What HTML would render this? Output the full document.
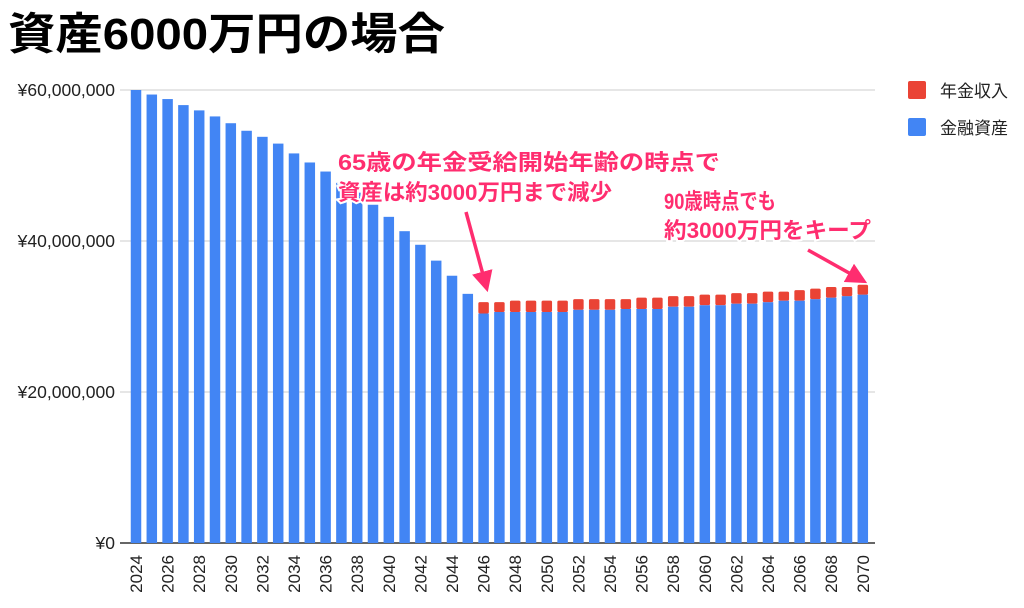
<!DOCTYPE html>
<html><head><meta charset="utf-8"><style>
body{margin:0;width:1024px;height:608px;background:#fff;overflow:hidden;font-family:"Liberation Sans","Noto Sans CJK JP",sans-serif}
svg{display:block}
</style></head><body>
<svg id="chart" width="1024" height="608" xmlns="http://www.w3.org/2000/svg">
<text x="8" y="49" font-size="44" font-weight="bold" textLength="437" lengthAdjust="spacingAndGlyphs" font-family="Liberation Sans,Noto Sans CJK JP,sans-serif" fill="#000">資産6000万円の場合</text>
<g id="grid"></g><g id="bars"></g><g id="xlabels"></g>
<g>
<rect x="908" y="81" width="18" height="18" rx="2" fill="#ea4335"/>
<text x="940" y="97" font-size="17" fill="#222">年金収入</text>
<rect x="908" y="118" width="18" height="18" rx="2" fill="#4285f4"/>
<text x="940" y="134" font-size="17" fill="#222">金融資産</text>
</g>
<defs><marker id="ah" markerWidth="6" markerHeight="6" refX="3" refY="3" orient="auto"><path d="M0,0 L6,3 L0,6 z" fill="#ff2d6f"/></marker></defs>
<g font-size="22" font-weight="bold" fill="#ff2d6f" stroke="#fff" stroke-width="4" paint-order="stroke" lengthAdjust="spacingAndGlyphs">
<text x="338" y="170" textLength="382" lengthAdjust="spacingAndGlyphs">65歳の年金受給開始年齢の時点で</text>
<text x="338" y="200" textLength="274" lengthAdjust="spacingAndGlyphs">資産は約3000万円まで減少</text>
</g>
<line x1="466" y1="212" x2="485" y2="282" stroke="#ff2d6f" stroke-width="3.5" marker-end="url(#ah)"/>
<g font-size="22" font-weight="bold" fill="#ff2d6f" stroke="#fff" stroke-width="4" paint-order="stroke">
<text x="664" y="209" textLength="112" lengthAdjust="spacingAndGlyphs">90歳時点でも</text>
<text x="664" y="238" textLength="207" lengthAdjust="spacingAndGlyphs">約3000万円をキープ</text>
</g>
<line x1="808" y1="250" x2="858" y2="278" stroke="#ff2d6f" stroke-width="3.5" marker-end="url(#ah)"/>
</svg>
<script>
const years=[];for(let y=2024;y<=2070;y++)years.push(y);
const assets=[60.0,59.4,58.8,58.0,57.3,56.5,55.6,54.6,53.8,52.9,51.6,50.4,49.2,47.7,46.4,44.8,43.2,41.3,39.5,37.4,35.4,33.0,
30.4,30.6,30.6,30.6,30.6,30.6,30.9,30.9,30.9,31.0,31.0,31.0,31.3,31.3,31.5,31.5,31.7,31.7,31.9,32.1,32.1,32.3,32.5,32.7,32.9];
const pension=[0,0,0,0,0,0,0,0,0,0,0,0,0,0,0,0,0,0,0,0,0,0,
1.5,1.3,1.5,1.5,1.5,1.5,1.4,1.4,1.4,1.3,1.5,1.5,1.4,1.4,1.4,1.4,1.4,1.4,1.4,1.2,1.4,1.4,1.4,1.2,1.3];
const yTicks=[0,20,40,60];
const yTickLabels=["¥0","¥20,000,000","¥40,000,000","¥60,000,000"];
const NS="http://www.w3.org/2000/svg";
const x0=128.1,band=15.8,bw=10.5,yBase=543,yScale=453/60;
const yPos=v=>yBase-v*yScale;
const xPos=i=>x0+band*i+band/2;
function mk(t,a,p){const e=document.createElementNS(NS,t);for(const k in a)e.setAttribute(k,a[k]);p.appendChild(e);return e;}
const grid=document.getElementById('grid');
yTicks.forEach((v,i)=>{
 const l=mk('line',{x1:120,x2:875,y1:yPos(v),y2:yPos(v),stroke:v===0?'#333':'#ccc','stroke-width':v===0?1.5:1},grid);
 
 
 const t=mk('text',{x:115,y:yPos(v)+6,'text-anchor':'end','font-size':17.5,fill:'#222'},grid);
 t.textContent=yTickLabels[i];
 
 
});
const bars=document.getElementById('bars');
years.forEach((yr,i)=>{
 const b=mk('rect',{x:xPos(i)-bw/2,y:yPos(assets[i]),width:bw,height:assets[i]*yScale,fill:'#4285f4'},bars);
 
 
 if(pension[i]>0){
  const p=mk('rect',{x:xPos(i)-bw/2,y:yPos(assets[i]+pension[i]),width:bw,height:pension[i]*yScale,fill:'#ea4335',rx:1.5},bars);
  
  
 }
});
const xl=document.getElementById('xlabels');
years.forEach((yr,i)=>{
 if(i%2)return;
 const cx=xPos(i)+6,cy=555;
 const t=mk('text',{x:cx,y:cy,'text-anchor':'end','font-size':17,fill:'#222',transform:`rotate(-90 ${cx} ${cy})`},xl);
 t.textContent=yr;
 
 
});
</script>
</body></html>
